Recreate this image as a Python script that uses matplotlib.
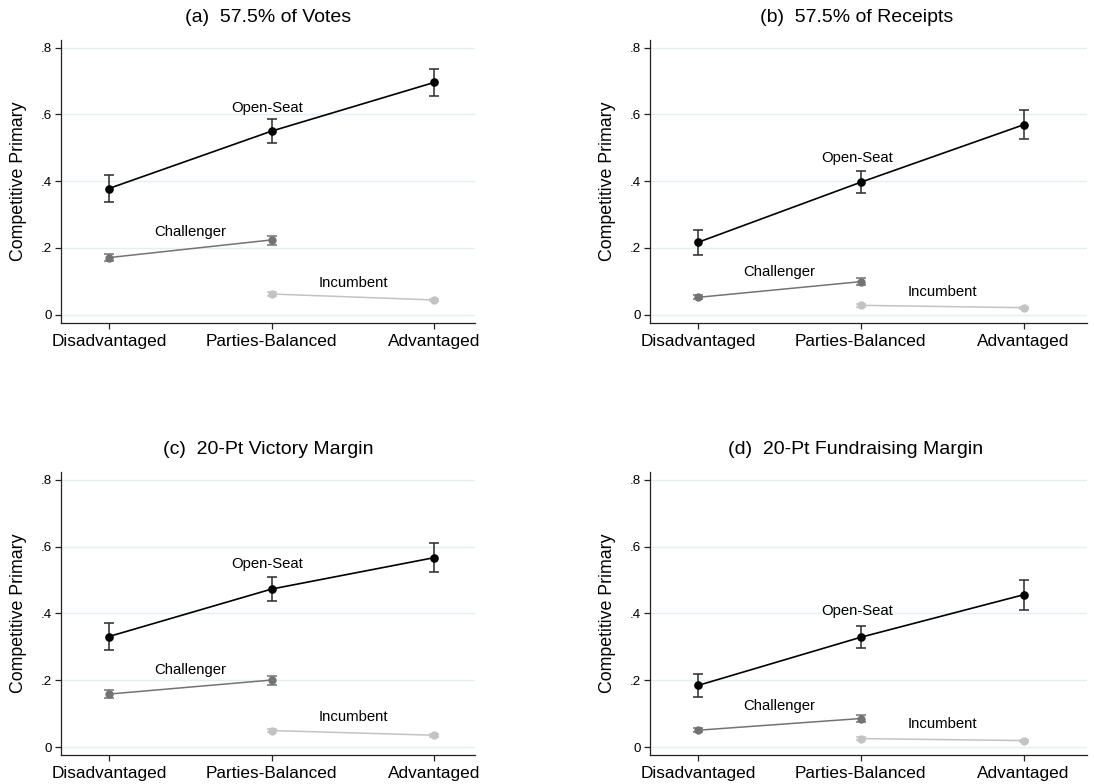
import matplotlib
matplotlib.use("Agg")
import matplotlib.pyplot as plt

plt.rcParams['font.family'] = ['Liberation Sans', 'DejaVu Sans']

categories = ["Disadvantaged", "Parties-Balanced", "Advantaged"]
y_ticks = [0, 0.2, 0.4, 0.6, 0.8]
y_tick_labels = ["0", ".2", ".4", ".6", ".8"]

titles = ["(a)  57.5% of Votes", "(b)  57.5% of Receipts",
          "(c)  20-Pt Victory Margin", "(d)  20-Pt Fundraising Margin"]

# Open-seat races: estimate with 95% interval, one row per panel
open_est = [[0.378, 0.550, 0.696], [0.217, 0.397, 0.569],
            [0.331, 0.473, 0.567], [0.185, 0.329, 0.456]]
open_lo = [[0.337, 0.515, 0.656], [0.179, 0.364, 0.526],
           [0.290, 0.436, 0.524], [0.150, 0.296, 0.411]]
open_hi = [[0.420, 0.585, 0.735], [0.254, 0.430, 0.613],
           [0.372, 0.509, 0.610], [0.220, 0.362, 0.499]]

# Challenger party (Disadvantaged, Parties-Balanced)
chal_est = [[0.171, 0.224], [0.052, 0.099], [0.159, 0.201], [0.051, 0.086]]
chal_lo = [[0.160, 0.209], [0.046, 0.089], [0.148, 0.187], [0.045, 0.076]]
chal_hi = [[0.182, 0.237], [0.058, 0.109], [0.170, 0.214], [0.057, 0.096]]

# Incumbent party (Parties-Balanced, Advantaged)
inc_est = [[0.062, 0.044], [0.028, 0.021], [0.050, 0.036], [0.026, 0.020]]
inc_lo = [[0.056, 0.040], [0.024, 0.018], [0.045, 0.032], [0.022, 0.017]]
inc_hi = [[0.068, 0.048], [0.032, 0.024], [0.055, 0.040], [0.030, 0.023]]

# Series label placement (x in category units, y in data units)
open_label_y = [0.62, 0.47, 0.549, 0.408]
chal_label_y = [0.247, 0.129, 0.23, 0.122]
inc_label_y = [0.096, 0.069, 0.091, 0.071]

W, H = 1094, 784
fig = plt.figure(figsize=(W / 100, H / 100), dpi=100)
fig.patch.set_facecolor("white")

# axes boxes in pixels: left, right, top, bottom
boxes = [(61, 475, 40, 322.7), (650, 1087, 40, 322.7),
         (61, 475, 472, 755.3), (650, 1087, 472, 755.3)]
xlims = [(0.706, 3.25), (0.704, 3.39), (0.706, 3.25), (0.704, 3.39)]
title_cx = [268, 857, 268, 856]

grid_c = "#e6eff0"
open_c = "black"
open_err_c = "#2a2a2a"
chal_c = "#737373"
inc_c = "#c3c3c3"

x_all = [1, 2, 3]
x_chal = [1, 2]
x_inc = [2, 3]

for i, (l, r, t, b) in enumerate(boxes):
    ax = fig.add_axes([l / W, 1 - b / H, (r - l) / W, (b - t) / H])
    ax.set_xlim(*xlims[i])
    ax.set_ylim(-0.024, 0.823)

    for yv in y_ticks:
        ax.axhline(yv, color=grid_c, lw=1.0, zorder=0)

    def series(xs, est, lo, hi, color, ecolor, ms, lw):
        yerr = [[e - a for e, a in zip(est, lo)], [c - e for e, c in zip(est, hi)]]
        ax.errorbar(xs, est, yerr=yerr, fmt="none", ecolor=ecolor,
                    elinewidth=1.1, capsize=3.5, capthick=1.1, zorder=2)
        ax.plot(xs, est, color=color, lw=lw, marker="o", ms=ms,
                mfc=color, mec=color, zorder=3)

    series(x_inc, inc_est[i], inc_lo[i], inc_hi[i], inc_c, inc_c, 5.0, 1.1)
    series(x_chal, chal_est[i], chal_lo[i], chal_hi[i], chal_c, chal_c, 5.0, 1.1)
    series(x_all, open_est[i], open_lo[i], open_hi[i], open_c, open_err_c, 5.2, 1.2)

    ax.text(1.975, open_label_y[i], "Open-Seat", ha="center", va="center", fontsize=10.7)
    ax.text(1.5, chal_label_y[i], "Challenger", ha="center", va="center", fontsize=10.7)
    ax.text(2.5, inc_label_y[i], "Incumbent", ha="center", va="center", fontsize=10.7)

    ax.set_xticks(x_all)
    ax.set_xticklabels(categories, fontsize=12.4)
    ax.set_yticks(y_ticks)
    ax.set_yticklabels(y_tick_labels, fontsize=9.6)
    ax.tick_params(axis="both", direction="out", length=4, width=0.9, color="#222222")
    ax.tick_params(axis="x", pad=4)
    ax.tick_params(axis="y", pad=2.5)

    for s in ["top", "right"]:
        ax.spines[s].set_visible(False)
    for s in ["left", "bottom"]:
        ax.spines[s].set_color("#222222")
        ax.spines[s].set_linewidth(0.9)

    axw = r - l
    axh = b - t
    ax.text(-42 / axw, 0.5, "Competitive Primary", rotation=90, ha="center",
            va="center", fontsize=12.8, transform=ax.transAxes)
    ax.text((title_cx[i] - l) / axw, 1 + 23 / axh, titles[i], ha="center",
            va="center", fontsize=14, transform=ax.transAxes)

fig.savefig("out.png", dpi=100, facecolor="white")
